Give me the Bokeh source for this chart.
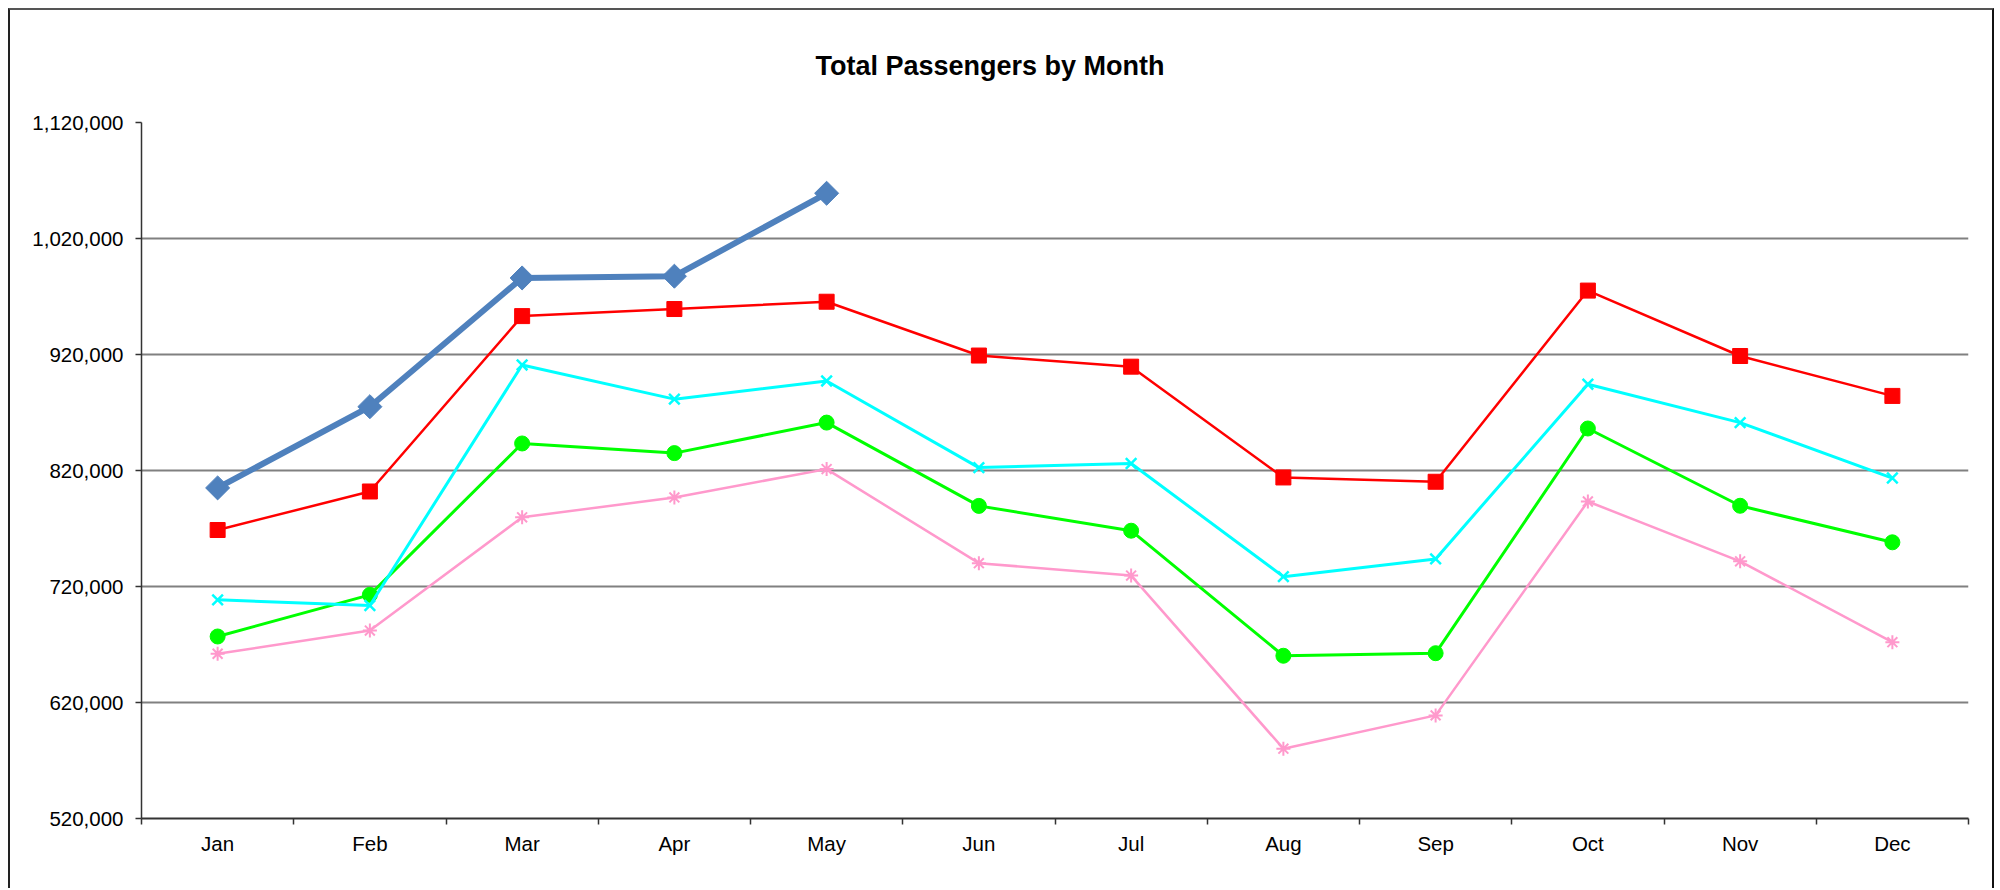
import math
from bokeh.plotting import figure
from bokeh.models import FixedTicker, NumeralTickFormatter, Range1d
from bokeh.embed import file_html
from bokeh.resources import INLINE

# ---- data ----
months = ["Jan", "Feb", "Mar", "Apr", "May", "Jun", "Jul", "Aug", "Sep", "Oct", "Nov", "Dec"]
blue_vals = [805000, 875000, 986000, 987500, 1059000]
red_vals = [768700, 801900, 953100, 959200, 965500, 919100, 909500, 814000, 810300, 975100, 918700, 884300]
cyan_vals = [708500, 703600, 911000, 881500, 897200, 822500, 826000, 728500, 743800, 894400, 861300, 813500]
green_vals = [676900, 712800, 843300, 835000, 861300, 789500, 768100, 660300, 662500, 856200, 789600, 758100]
pink_vals = [662000, 682000, 779600, 796800, 821200, 740100, 729400, 580200, 608900, 793300, 741700, 672000]
y_ticks = [520000, 620000, 720000, 820000, 920000, 1020000, 1120000]
title_text = "Total Passengers by Month"

FONT = "Liberation Sans"
LBL = "20.5px"

centers = [i + 0.5 for i in range(len(months))]
bounds = list(range(len(months) + 1))

p = figure(width=1986, height=880, output_backend="svg", toolbar_location=None,
           x_range=Range1d(0, len(months)), y_range=Range1d(y_ticks[0], y_ticks[-1]),
           min_border_left=131, min_border_right=28, min_border_top=111, min_border_bottom=72,
           title=title_text)
p.margin = (8, 0, 0, 8)
p.styles = {"border-top": "2px solid #555", "border-left": "2px solid #222",
            "border-right": "2px solid #111", "border-bottom": "none"}

p.outline_line_color = None
p.background_fill_color = "white"
p.border_fill_color = "white"

p.title.align = "left"
p.title.vertical_align = "top"
p.title.text_font = FONT
p.title.text_font_size = "27px"
p.title.text_font_style = "bold"
p.title.text_color = "black"
p.title.standoff = 80
p.title.offset = 674

# y axis
p.yaxis.ticker = FixedTicker(ticks=y_ticks)
p.yaxis.formatter = NumeralTickFormatter(format="0,0")
p.yaxis.major_label_text_font = FONT
p.yaxis.major_label_text_font_size = LBL
p.yaxis.major_label_text_color = "black"
p.yaxis.axis_line_color = "#333333"
p.yaxis.axis_line_width = 1.5
p.yaxis.major_tick_line_color = "#333333"
p.yaxis.major_tick_line_width = 1.5
p.yaxis.major_tick_out = 6
p.yaxis.major_tick_in = 0
p.yaxis.minor_tick_line_color = None
p.yaxis.major_label_standoff = 12

# x axis: labels at centres, ticks at boundaries
p.xaxis.ticker = FixedTicker(ticks=centers, minor_ticks=bounds)
p.xaxis.major_label_overrides = {c: m for c, m in zip(centers, months)}
p.xaxis.major_label_text_font = FONT
p.xaxis.major_label_text_font_size = LBL
p.xaxis.major_label_text_color = "black"
p.xaxis.axis_line_color = "#333333"
p.xaxis.axis_line_width = 2
p.xaxis.major_tick_line_color = None
p.xaxis.major_tick_out = 0
p.xaxis.major_tick_in = 0
p.xaxis.minor_tick_line_color = "#333333"
p.xaxis.minor_tick_line_width = 1.5
p.xaxis.minor_tick_out = 6
p.xaxis.minor_tick_in = 0
p.xaxis.major_label_standoff = 7

p.xgrid.grid_line_color = None
p.ygrid.grid_line_color = "#808080"
p.ygrid.grid_line_width = 2

# series (oldest first so the current year is on top)
xp = centers
p.line(xp, pink_vals, line_color="#FF99CC", line_width=2.5)
p.scatter(xp, pink_vals, marker="asterisk", size=14, line_color="#FF99CC", line_width=2)

p.line(xp, green_vals, line_color="#00FF00", line_width=3)
p.scatter(xp, green_vals, marker="circle", size=15, fill_color="#00FF00", line_color="#00FF00")

p.line(xp, cyan_vals, line_color="#00FFFF", line_width=3)
p.scatter(xp, cyan_vals, marker="x", size=15, line_color="#00FFFF", line_width=2.5)

p.line(xp, red_vals, line_color="#FF0000", line_width=2.5)
p.scatter(xp, red_vals, marker="square", size=15, fill_color="#FF0000", line_color="#FF0000")

xb = centers[:len(blue_vals)]
p.line(xb, blue_vals, line_color="#4F81BD", line_width=6)
p.scatter(xb, blue_vals, marker="square", angle=math.pi / 4, size=17,
          fill_color="#4F81BD", line_color="#4F81BD")

open("out.html", "w").write(file_html(p, INLINE))
